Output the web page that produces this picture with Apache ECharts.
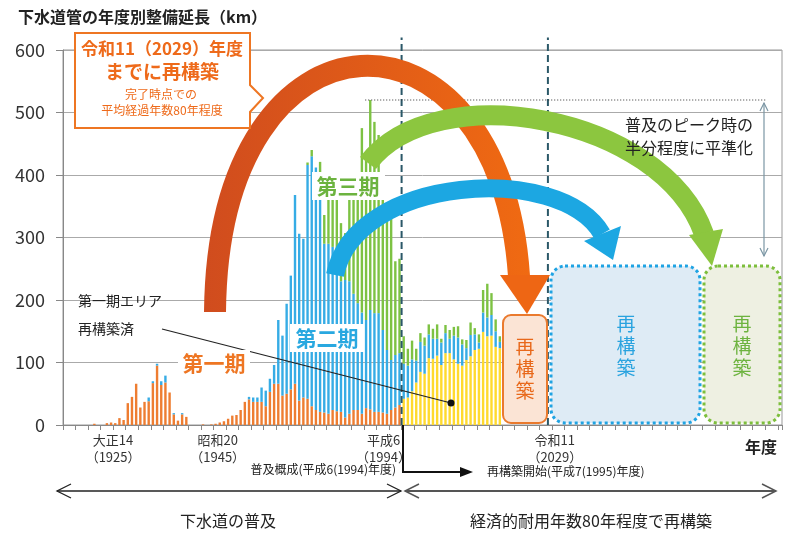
<!DOCTYPE html>
<html>
<head>
<meta charset="utf-8">
<script src="https://cdn.jsdelivr.net/npm/echarts@6/dist/echarts.min.js"></script>
<style>
html,body{margin:0;padding:0;background:#fff;}
#chart{width:800px;height:533px;}
</style>
</head>
<body>
<div id="chart"></div>
<script>
// ---- data ----
const firstYear = 1914, lastYear = 2085;
const tickYears = ['1925', '1945', '1994', '2029'];
const tickEras = ['大正14', '昭和20', '平成6', '令和11'];

// 第一期 (orange), from 1921 to 1994
const period1Start = 1921;
const period1 = [
  2,0,0,3,4,3,11,8,35,45,
  66,28,37,38,67,95,64,68,52,17,
  7,17,13,0,0,0,1,0,1,2,
  4,6,10,15,16,24,37,41,37,37,
  37,30,53,66,66,47,50,57,66,39,
  44,42,30,24,21,20,18,24,22,21,
  12,18,24,24,18,27,25,21,21,20,
  18,24,28,32
];
// 第二期 (blue), from 1934 to 2018
const period2Start = 1934;
const period2 = [
  6,3,3,6,11,0,2,
  0,2,0,0,0,0,0,0,0,0,
  0,0,0,0,0,0,0,4,7,7,
  23,25,21,30,102,96,144,182,302,267,
  254,374,400,388,380,270,272,261,238,209,
  220,212,186,171,162,141,159,158,158,132,
  102,80,84,83,56,51,51,35,48,45,
  38,32,27,36,32,23,38,42,34,19,
  34,25,10,31,30,33,25,10
];
// 第三期 (green), from 1972 to 2018
const period3Start = 1972;
const period3 = [
  4,10,0,20,46,75,95,112,93,
  75,155,168,195,295,261,336,306,285,208,
  210,246,150,151,44,27,30,19,14,13,
  16,16,23,6,13,14,14,18,8,13,
  20,10,13,36,54,35,19,9
];
// 第一期エリア再構築済 (yellow), from 1995 to 2018
const rebuiltStart = 1995;
const rebuilt = [
  42,44,54,68,85,82,107,106,111,96,
  115,115,105,98,95,104,110,120,122,149,
  142,143,125,123
];
const milestoneYears = [1994.5, 2029.5];
const peakValue = 520;

// ---- build ----
const years = [];
for (let y = firstYear; y <= lastYear; y++) years.push(String(y));
function place(arr, start) {
  return years.map(y => { const i = +y - start; return (i >= 0 && i < arr.length) ? arr[i] : 0; });
}

const FONT = '"Noto Sans CJK JP", "Noto Sans", sans-serif';
const C = { orange: '#EE7D31', blue: '#36ACE5', green: '#7DC243', yellow: '#FFDA2E' };

const shifts = { '1925': [0, 0, 0, 4], '1945': [0, 0, 0, 46], '1994': [0, 32, 0, 0], '2029': [0, 0, 0, 18] };
const rich = {};
tickYears.forEach(y => { rich['y' + y] = { fontSize: 13, color: '#333', lineHeight: 17, padding: shifts[y], fontFamily: FONT }; });

function T(text, x, y, size, color, opts) {
  opts = opts || {};
  return {
    type: 'text', z: opts.z || 60,
    style: {
      text: text, x: x, y: y, fill: color,
      font: (opts.bold ? 'bold ' : '') + size + 'px ' + FONT,
      textAlign: opts.align || 'center', align: opts.align || 'center',
      textVerticalAlign: 'middle', verticalAlign: 'middle',
      lineHeight: opts.lh || size * 1.2
    }
  };
}
function L(x1, y1, x2, y2, color, w, z) {
  return { type: 'line', z: z || 55, shape: { x1: x1, y1: y1, x2: x2, y2: y2 }, style: { stroke: color, lineWidth: w } };
}
function PL(points, color, w) {
  return { type: 'polyline', z: 55, shape: { points: points }, style: { stroke: color, lineWidth: w, fill: null } };
}
function PG(points, color, z) {
  return { type: 'polygon', z: z || 52, shape: { points: points }, style: { fill: color } };
}

const graphics = [
  // title
  T('下水道管の年度別整備延長（km）', 18, 17, 16, '#222', { bold: true, align: 'left' }),
  T('年度', 761, 447, 16, '#222', { bold: true }),

  // reconstruction boxes
  { type: 'rect', z: 40, shape: { x: 503, y: 315, width: 44, height: 108, r: 8 }, style: { fill: '#FBE4D5', stroke: '#EA7A2E', lineWidth: 2 } },
  T('再\n構\n築', 525, 369, 19, '#E8681A', { lh: 22 }),
  { type: 'rect', z: 40, shape: { x: 551, y: 266, width: 149, height: 157, r: 14 }, style: { fill: '#DEEBF5', stroke: '#1FA3E3', lineWidth: 3, lineDash: [3, 3] } },
  T('再\n構\n築', 626, 346, 19, '#29A3DF', { lh: 22 }),
  { type: 'rect', z: 40, shape: { x: 704, y: 266, width: 76, height: 157, r: 14 }, style: { fill: '#EEF0E2', stroke: '#7DBE3C', lineWidth: 3, lineDash: [3, 3] } },
  T('再\n構\n築', 742, 346, 19, '#6DB33F', { lh: 22 }),

  // arcs
  { type: 'bezierCurve', z: 50, shape: { x1: 215, y1: 312, cpx1: 218, cpy1: -10, cpx2: 500, cpy2: -10, x2: 519, y2: 276 },
    style: { fill: null, lineWidth: 22, lineCap: 'butt',
      stroke: { type: 'linear', x: 0, y: 0, x2: 1, y2: 0, colorStops: [{ offset: 0, color: '#D04C1E' }, { offset: 1, color: '#F06A12' }] } } },
  PG([[500, 275], [550, 275], [527, 314]], '#EE6614'),
  { type: 'bezierCurve', z: 50, shape: { x1: 335, y1: 275, cpx1: 355, cpy1: 175, cpx2: 560, cpy2: 162, x2: 602, y2: 234 },
    style: { fill: null, lineWidth: 18, lineCap: 'butt', stroke: '#1CA7E2' } },
  PG([[584, 241], [621, 226], [613, 260]], '#1CA7E2'),
  { type: 'bezierCurve', z: 50, shape: { x1: 368, y1: 163, cpx1: 435, cpy1: 75, cpx2: 662, cpy2: 115, x2: 704, y2: 234 },
    style: { fill: null, lineWidth: 20, lineCap: 'butt', stroke: '#8CC63F' } },
  PG([[689, 235], [723, 229], [712, 266]], '#8CC63F'),

  // period labels
  { type: 'rect', z: 58, shape: { x: 178, y: 350, width: 72, height: 26 }, style: { fill: '#fff' } },
  T('第一期', 214, 363, 21, '#EE7623', { bold: true }),
  { type: 'rect', z: 58, shape: { x: 290, y: 324, width: 74, height: 28 }, style: { fill: '#fff' } },
  T('第二期', 327, 338, 21, '#29A8E0', { bold: true }),
  { type: 'rect', z: 58, shape: { x: 312, y: 172, width: 73, height: 28 }, style: { fill: '#fff' } },
  T('第三期', 348, 186, 21, '#6CB33F', { bold: true }),

  // callout
  { type: 'polygon', z: 58, shape: { points: [[75, 33], [250, 33], [250, 85], [263, 98], [250, 112], [250, 128], [75, 128]] },
    style: { fill: '#fff', stroke: '#EE7623', lineWidth: 2 } },
  T('令和11（2029）年度', 162, 49, 17, '#EE6A1A', { bold: true }),
  T('までに再構築', 162, 72, 19, '#EE6A1A', { bold: true }),
  T('完了時点での', 161, 94, 12, '#EE6A1A'),
  T('平均経過年数80年程度', 162, 110, 12, '#EE6A1A'),

  // 第一期エリア再構築済 pointer
  T('第一期エリア', 78, 301, 14, '#222', { align: 'left' }),
  T('再構築済', 78, 329, 14, '#222', { align: 'left' }),
  L(162, 329, 451, 403, '#222', 1.2, 56),
  { type: 'circle', z: 56, shape: { cx: 451, cy: 403, r: 3.5 }, style: { fill: '#111' } },

  // peak note
  T('普及のピーク時の', 625, 125, 16, '#222', { align: 'left' }),
  T('半分程度に平準化', 625, 148, 16, '#222', { align: 'left' }),
  L(764, 103, 764, 256, '#7B96A4', 1.2),
  PL([[760, 111], [764, 103], [768, 111]], '#7B96A4', 1.2),
  PL([[760, 248], [764, 256], [768, 248]], '#7B96A4', 1.2),

  // bottom annotations
  L(403, 425, 403, 472, '#111', 2),
  L(402, 472, 462, 472, '#111', 2),
  PG([[460, 467], [473, 472], [460, 477]], '#111', 55),
  T('普及概成(平成6(1994)年度)', 396, 469, 12, '#222', { align: 'right' }),
  T('再構築開始(平成7(1995)年度)', 487, 471, 12, '#222', { align: 'left' }),

  L(57, 491, 401, 491, '#222', 1.3),
  PL([[71, 484], [57, 491], [71, 498]], '#222', 1.3),
  PL([[387, 484], [401, 491], [387, 498]], '#222', 1.3),
  L(405, 491, 776, 491, '#555', 2),
  PL([[419, 484], [405, 491], [419, 498]], '#555', 1.5),
  PL([[762, 484], [776, 491], [762, 498]], '#555', 1.5),
  T('下水道の普及', 228, 521, 16, '#222'),
  T('経済的耐用年数80年程度で再構築', 591, 521, 16, '#222')
];

const chart = echarts.init(document.getElementById('chart'), null, { renderer: 'canvas' });
const barBase = { type: 'bar', stack: 'total', barWidth: 2.4, silent: true };
chart.setOption({
  animation: false,
  backgroundColor: '#fff',
  textStyle: { fontFamily: FONT },
  grid: { left: 63, right: 18, top: 50, bottom: 108, show: true, borderColor: '#999', borderWidth: 1, backgroundColor: 'transparent', outerBoundsMode: 'none' },
  xAxis: [
    {
      type: 'category', data: years, boundaryGap: true,
      axisLine: { lineStyle: { color: '#888' } },
      axisTick: { show: true, interval: 2, length: 5, lineStyle: { color: '#888' } },
      axisLabel: {
        margin: 7,
        hideOverlap: false,
        showMinLabel: true,
        showMaxLabel: true,
        interval: (i, v) => tickYears.indexOf(String(v)) >= 0,
        formatter: v => { const k = 'y' + v; const e = tickEras[tickYears.indexOf(String(v))]; return '{' + k + '|' + e + '}\n{' + k + '|（' + v + '）}'; },
        rich: rich
      },
      splitLine: { show: false }
    },
    { type: 'value', min: firstYear - 0.5, max: lastYear + 0.5, show: false }
  ],
  yAxis: [
    {
      type: 'value', min: 0, max: 600, interval: 100,
      axisLine: { show: true, lineStyle: { color: '#888' } },
      axisTick: { show: true, length: 7, lineStyle: { color: '#888' } },
      axisLabel: { fontSize: 18, color: '#333', margin: 18, fontFamily: FONT, hideOverlap: false },
      splitLine: { lineStyle: { color: '#aaa', width: 1 } }
    }
  ],
  series: [
    Object.assign({ name: '第一期', data: place(period1, period1Start), itemStyle: { color: C.orange } }, barBase),
    Object.assign({ name: '第一期エリア再構築済', data: place(rebuilt, rebuiltStart), itemStyle: { color: C.yellow } }, barBase),
    Object.assign({ name: '第二期', data: place(period2, period2Start), itemStyle: { color: C.blue } }, barBase),
    Object.assign({ name: '第三期', data: place(period3, period3Start), itemStyle: { color: C.green } }, barBase),
    ...milestoneYears.map(y => ({
      type: 'line', xAxisIndex: 1, yAxisIndex: 0, clip: false, silent: true, symbol: 'none', z: 30,
      data: [[y, 0], [y, 620]],
      lineStyle: { color: '#2B5868', width: 2, type: [7, 4] }
    })),
    {
      type: 'line', xAxisIndex: 1, yAxisIndex: 0, clip: false, silent: true, symbol: 'none', z: 30,
      data: [[1985.8, peakValue], [2081.6, peakValue]],
      lineStyle: { color: '#333', width: 1, type: [1, 2] }
    }
  ],
  graphic: { elements: graphics }
});
</script>
</body>
</html>
